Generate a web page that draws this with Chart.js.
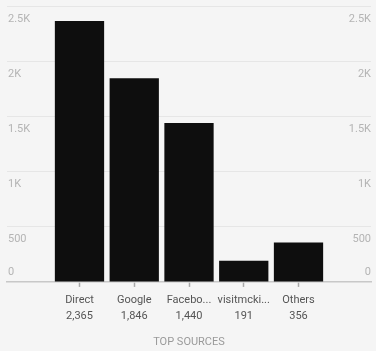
<!DOCTYPE html>
<html>
<head>
<meta charset="utf-8">
<script src="https://cdn.jsdelivr.net/npm/chart.js@4/dist/chart.umd.min.js"></script>
<style>
  html, body { margin: 0; padding: 0; background: #f5f5f5; }
  #wrap { width: 376px; height: 351px; position: relative; }
</style>
</head>
<body>
<div id="wrap"><canvas id="chartSources"></canvas></div>
<script>
// data
const sources = ['Direct', 'Google', 'Facebo...', 'visitmcki...', 'Others'];
const visits = [2365, 1846, 1440, 191, 356];
const yTicks = [0, 500, 1000, 1500, 2000, 2500];
const yTickLabels = ['0', '500', '1K', '1.5K', '2K', '2.5K'];

// y labels sit just under their grid line (the 0 one above it), on both sides
const sideLabels = {
	id: 'sideLabels',
	afterDatasetsDraw(chart) {
		const ctx = chart.ctx;
		const area = chart.chartArea;
		const y = chart.scales.y;
		ctx.save();
		ctx.font = '11px Roboto';
		ctx.fillStyle = '#b4b4b4';
		ctx.textBaseline = 'middle';
		yTicks.forEach(function(v, i) {
			var py = y.getPixelForValue(v);
			py = v === 0 ? py - 10 : py + 13;
			ctx.textAlign = 'left';
			ctx.fillText(yTickLabels[i], area.left + 1, py);
			ctx.textAlign = 'right';
			ctx.fillText(yTickLabels[i], area.right, py);
		});
		ctx.restore();
	}
};

var config = {
	type: 'bar',
	data: {
		datasets: [{
			label: 'Top sources',
			data: visits.map(function(v, i) { return { x: i, y: v }; }),
			backgroundColor: '#0e0e0e',
			barPercentage: 0.9,
			categoryPercentage: 1
		}]
	},
	options: {
		responsive: true,
		maintainAspectRatio: false,
		animation: false,
		layout: { padding: { left: 7, right: 5, top: 6, bottom: 2 } },
		plugins: {
			legend: { display: false },
			tooltip: { enabled: false }
		},
		scales: {
			x: {
				type: 'linear',
				offset: false,
				min: -1.324,
				max: 5.324,
				afterBuildTicks: function(axis) {
					axis.ticks = sources.map(function(_, i) { return { value: i }; });
				},
				ticks: {
					autoSkip: false,
					maxRotation: 0,
					padding: 5,
					color: '#555',
					font: { family: 'Roboto', size: 11, lineHeight: 1.45 },
					callback: function(value) {
						return [sources[value], visits[value].toLocaleString('en-US')];
					}
				},
				grid: {
					offset: false,
					drawOnChartArea: false,
					drawTicks: true,
					tickLength: 5,
					tickColor: '#a8a8a8',
					tickWidth: 1.5,
					color: '#c8c8c8'
				},
				border: { display: true, color: '#c8c8c8', width: 1.5 },
				title: {
					display: true,
					text: 'TOP SOURCES',
					color: '#9a9a9a',
					font: { family: 'Roboto', size: 11 },
					padding: { top: 7, bottom: 0 }
				}
			},
			y: {
				min: 0,
				max: 2500,
				afterBuildTicks: function(axis) {
					axis.ticks = yTicks.map(function(v) { return { value: v }; });
				},
				ticks: { display: false },
				grid: { color: '#e6e6e6', drawTicks: false },
				border: { display: false }
			}
		}
	},
	plugins: [sideLabels]
};

var ctxSources = document.getElementById('chartSources').getContext('2d');
window.sourcesChart = new Chart(ctxSources, config);
</script>
</body>
</html>
